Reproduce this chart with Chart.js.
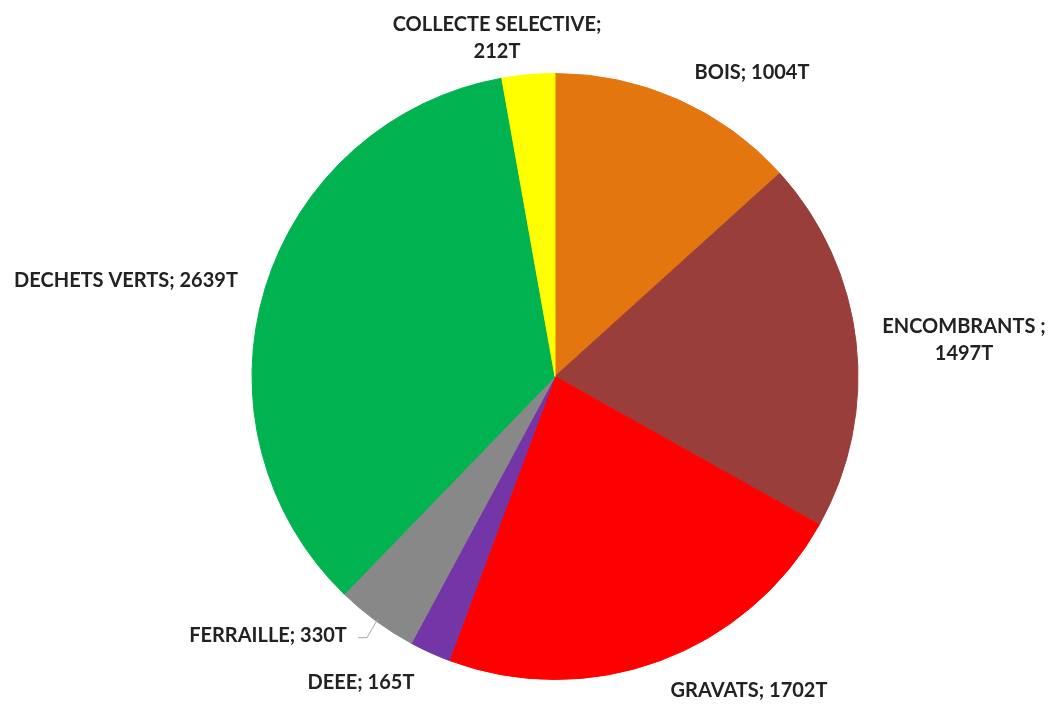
<!DOCTYPE html>
<html lang="fr">
<head>
<meta charset="utf-8">
<title>Tonnages déchetterie</title>
<script src="https://cdn.jsdelivr.net/npm/chart.js@4.4.1/dist/chart.umd.min.js"></script>
<style>
  html, body { margin: 0; padding: 0; background: #ffffff; }
  #wrap { width: 1054px; height: 704px; }
</style>
</head>
<body>
<div id="wrap"><canvas id="pie" width="1054" height="704"></canvas></div>
<script>
// catégories et tonnages (sens horaire depuis le haut)
const categories = ['BOIS', 'ENCOMBRANTS', 'GRAVATS', 'DEEE', 'FERRAILLE', 'DECHETS VERTS', 'COLLECTE SELECTIVE'];
const tonnages = [1004, 1497, 1702, 165, 330, 2639, 212];
const labelLines = [
  ['BOIS; 1004T'],
  ['ENCOMBRANTS ;', '1497T'],
  ['GRAVATS; 1702T'],
  ['DEEE; 165T'],
  ['FERRAILLE; 330T'],
  ['DECHETS VERTS; 2639T'],
  ['COLLECTE SELECTIVE;', '212T'],
];
const colors = ['#e4760f', '#9a3e3b', '#ff0000', '#7435a6', '#888888', '#00b350', '#ffff00'];

// position des étiquettes, décalage depuis le centre du camembert (px)
const labelOffsets = [
  [197, -304],
  [409, -36],
  [194, 314],
  [-194, 306],
  [-287, 259],
  [-429, -96],
  [-58, -338],
];

const pieLabels = {
  id: 'pieLabels',
  afterDatasetsDraw(chart) {
    const ctx = chart.ctx;
    const arcs = chart.getDatasetMeta(0).data;
    const cx = arcs[0].x, cy = arcs[0].y;
    ctx.save();
    ctx.font = 'bold 20px Lato, "Open Sans", sans-serif';
    ctx.fillStyle = '#222222';
    ctx.textAlign = 'center';
    ctx.textBaseline = 'middle';
    const lineH = 27;
    labelLines.forEach((lines, i) => {
      const x = cx + labelOffsets[i][0];
      const y = cy + labelOffsets[i][1];
      const top = y - (lines.length - 1) * lineH / 2;
      lines.forEach((t, j) => ctx.fillText(t, x, top + j * lineH));
    });

    // ligne de rappel FERRAILLE
    const fa = arcs[4];
    const mid = (fa.startAngle + fa.endAngle) / 2;
    const ex = cx + Math.cos(mid) * (fa.outerRadius - 3);
    const ey = cy + Math.sin(mid) * (fa.outerRadius - 3);
    ctx.strokeStyle = '#a6a6a6';
    ctx.lineWidth = 1;
    ctx.beginPath();
    ctx.moveTo(ex, ey);
    ctx.lineTo(ex - 11, ey + 19);
    ctx.lineTo(ex - 20, ey + 19);
    ctx.stroke();
    ctx.restore();
  }
};

new Chart(document.getElementById('pie'), {
  type: 'pie',
  data: {
    labels: categories,
    datasets: [{
      data: tonnages,
      backgroundColor: colors,
      borderColor: colors,
      borderWidth: 1,
    }],
  },
  options: {
    responsive: false,
    animation: false,
    layout: { padding: { left: 100, right: 44, top: 73, bottom: 24 } },
    plugins: {
      legend: { display: false },
      tooltip: { enabled: false },
    },
  },
  plugins: [pieLabels],
});
</script>
</body>
</html>
